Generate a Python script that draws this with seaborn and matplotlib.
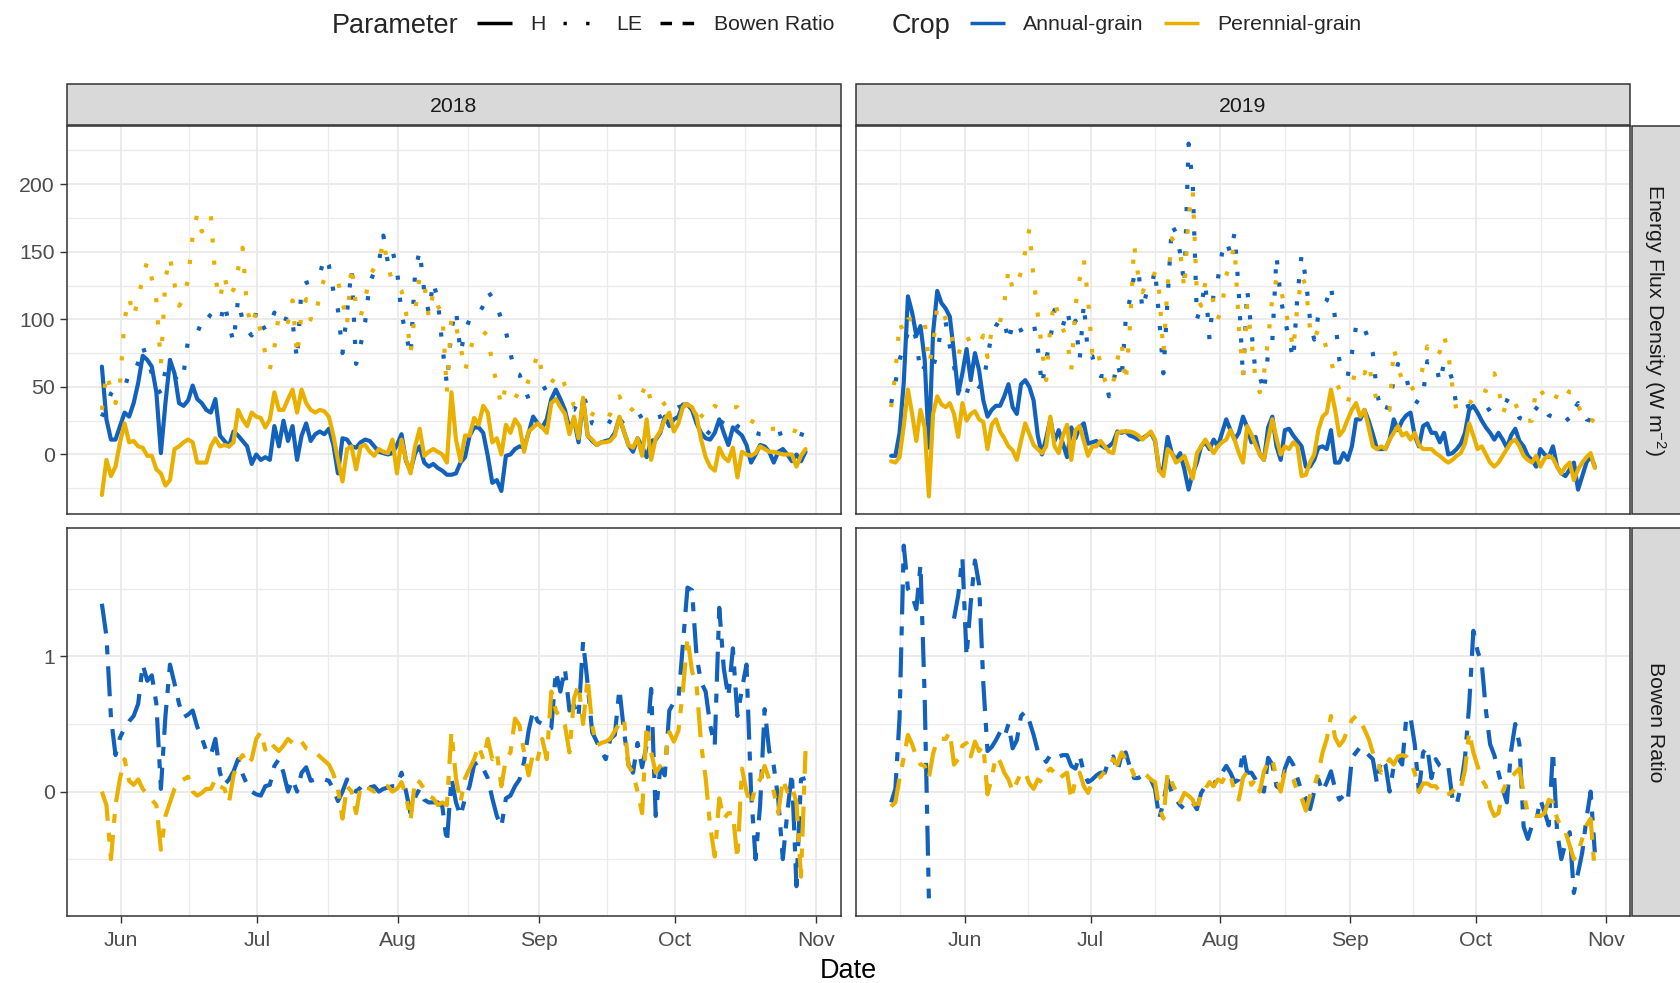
import numpy as np
import pandas as pd
import matplotlib
matplotlib.use("Agg")
import matplotlib.pyplot as plt
import matplotlib.dates as mdates
from matplotlib.lines import Line2D
from matplotlib.patches import Rectangle
import seaborn as sns

# ------------------------------------------------------------------
# Daily series (one value per day from the start date)
# ------------------------------------------------------------------
START_2018 = "2018-05-28"
START_2019 = "2019-05-15"

# Sensible heat flux H (W m-2), 2018
h_annual_2018 = [
    65, 26, 11, 11, 21, 31, 28, 38, 53, 73,
    70, 65, 46, 1, 38, 70, 60, 38, 36, 40,
    51, 41, 38, 33, 31, 41, 14, 10, 6, 17,
    14, 10, 6, -7, 0, -4, -2, -4, 21, 6,
    25, 10, 21, -4, 14, 23, 10, 15, 17, 15,
    19, 7, -14, 12, 11, 6, 5, 9, 11, 10,
    6, 2, 1, 0, 1, 7, 15, -5, -12, 1,
    6, -6, -9, -7, -10, -12, -15, -15, -14, -6,
    -2, 14, 20, 20, 16, -1, -21, -19, -27, -1,
    0, 4, 6, 5, 16, 28, 23, 20, 26, 41,
    48, 41, 33, 19, 26, 9, 41, 14, 10, 7,
    9, 10, 11, 16, 27, 17, 7, 2, 12, 6,
    -2, 10, 11, 16, 28, 21, 26, 28, 37, 37,
    33, 23, 16, 12, 11, 16, 26, 16, 7, 20,
    17, 14, 7, -6, 0, 7, 6, 2, -6, 2,
    4, 0, -5, 0, -5, 2,
]
h_perennial_2018 = [
    -30, -4, -16, -9, 9, 23, 9, 10, 6, 5,
    -1, -1, -11, -14, -23, -19, 4, 6, 9, 11,
    9, -6, -6, -6, 6, 12, 6, 7, 6, 9,
    33, 26, 21, 31, 28, 27, 20, 26, 46, 33,
    33, 41, 48, 31, 48, 38, 33, 31, 33, 32,
    28, 14, -4, -20, 4, 6, -11, 6, 7, 2,
    -1, 4, 2, 1, 11, -14, 11, -4, -14, 6,
    19, -1, 2, 4, 2, 0, -6, 46, 11, -5,
    14, 14, 27, 22, 36, 31, 9, 12, 0, 22,
    16, 26, 21, 2, 17, 20, 23, 20, 16, 38,
    41, 35, 30, 15, 28, 12, 42, 14, 11, 7,
    9, 9, 10, 14, 28, 17, 7, 5, 12, -1,
    26, -4, 12, 17, 26, 31, 17, 23, 35, 37,
    35, 28, 11, -2, -9, -12, 5, -2, -5, 5,
    -17, 2, 0, -1, 1, 6, 4, 2, 2, 1,
    0, 0, 0, -9, -1, 4,
]

# Latent heat flux LE (W m-2), 2018
le_annual_2018 = [
    28, 35, 45, 50, 52, 55, 54, 60, 68, 80,
    70, 60, 50, 45, 62, 65, 58, 53, 60, 85,
    88, 90, 98, 105, 102, 100, 97, 112, 96, 83,
    115, 99, 92, 88, 106, 98, 92, 95, 105, 100,
    96, 104, 98, 70, 125, 127, 128, 131, 133, 146,
    140, 121, 107, 75, 105, 137, 67, 81, 98, 127,
    135, 142, 162, 142, 151, 137, 104, 89, 73, 135,
    151, 121, 105, 128, 114, 80, 52, 93, 107, 75,
    91, 100, 104, 104, 110, 121, 116, 110, 100, 91,
    75, 60, 59, 50, 41, 44, 46, 48, 50, 51,
    46, 40, 38, 33, 33, 40, 44, 35, 23, 22,
    21, 20, 25, 31, 27, 22, 24, 26, 27, 29,
    31, 29, 27, 28, 30, 31, 33, 35, 36, 36,
    36, 28, 21, 18, 15, 14, 20, 26, 28, 25,
    21, 19, 18, 17, 16, 15, 15, 14, 14, 15,
    16, 17, 17, 16, 15, 14,
]
le_perennial_2018 = [
    33, 60, 48, 38, 53, 100, 116, 102, 115, 131,
    143, 130, 114, 67, 130, 146, 126, 110, 115, 130,
    162, 178, 165, 168, 177, 130, 115, 132, 117, 122,
    137, 153, 107, 95, 106, 90, 75, 63, 79, 104,
    100, 98, 114, 73, 105, 115, 100, 99, 120, 130,
    128, 128, 128, 114, 96, 140, 109, 102, 115, 132,
    138, 141, 158, 140, 127, 125, 121, 105, 75, 106,
    132, 127, 102, 120, 110, 104, 46, 102, 95, 80,
    62, 75, 88, 90, 91, 88, 67, 52, 36, 51,
    46, 44, 42, 45, 55, 63, 75, 60, 56, 53,
    58, 60, 51, 45, 36, 35, 33, 32, 30, 28,
    27, 25, 30, 40, 43, 36, 31, 34, 38, 45,
    53, 38, 36, 35, 38, 40, 39, 38, 37, 37,
    37, 33, 29, 26, 30, 36, 34, 33, 34, 35,
    35, 30, 27, 25, 23, 21, 20, 19, 19, 19,
    19, 19, 18, 17, 15, 14,
]

# Bowen ratio, 2018
bowen_annual_2018 = [
    1.39, 1.15, 0.55, 0.27, 0.40, 0.47, 0.52, 0.56, 0.65, 0.94,
    0.82, 0.86, 0.65, 0.02, 0.56, 0.94, 0.80, 0.65, 0.55, 0.57,
    0.60, 0.48, 0.40, 0.30, 0.27, 0.39, 0.14, 0.05, 0.09, 0.15,
    0.24, 0.13, 0.05, 0.00, -0.02, -0.03, 0.04, 0.05, 0.19, 0.24,
    0.14, 0.00, 0.09, 0.00, 0.14, 0.18, 0.08, 0.09, 0.08, 0.09,
    0.08, 0.02, -0.07, 0.00, 0.09, 0.02, 0.00, 0.03, 0.07, 0.03,
    0.04, 0.00, 0.02, 0.03, 0.04, 0.04, 0.14, 0.00, -0.16, -0.04,
    0.02, -0.06, -0.08, -0.08, -0.08, -0.11, -0.38, 0.10, -0.08, -0.18,
    -0.05, 0.04, 0.20, 0.22, 0.17, 0.10, -0.05, -0.18, -0.26, -0.05,
    -0.03, 0.04, 0.09, 0.22, 0.45, 0.60, 0.52, 0.50, 0.46, 0.47,
    0.89, 0.74, 0.91, 0.60, 0.64, 0.55, 1.11, 0.80, 0.44, 0.37,
    0.30, 0.24, 0.39, 0.42, 0.76, 0.45, 0.20, 0.14, 0.36, 0.18,
    0.34, 0.76, -0.18, 0.18, 0.12, 0.60, 0.66, 0.68, 1.09, 1.51,
    1.49, 1.00, 0.81, 0.74, 0.49, 0.34, 1.36, 0.91, 0.70, 1.06,
    0.56, 0.76, 0.94, 0.00, -0.50, -0.10, 0.61, 0.30, 0.19, -0.06,
    -0.50, -0.15, 0.14, -0.70, 0.09, 0.10,
]
bowen_perennial_2018 = [
    0.00, -0.10, -0.50, -0.10, 0.10, 0.24, 0.08, 0.05, 0.09, 0.02,
    -0.02, -0.06, -0.10, -0.43, -0.18, -0.08, 0.02, 0.07, 0.09, 0.11,
    0.00, -0.03, -0.01, 0.02, 0.02, 0.09, 0.04, 0.02, -0.08, 0.12,
    0.22, 0.27, 0.20, 0.24, 0.39, 0.44, 0.31, 0.37, 0.33, 0.30,
    0.34, 0.39, 0.36, 0.34, 0.37, 0.32, 0.31, 0.29, 0.26, 0.23,
    0.20, 0.13, 0.02, -0.20, 0.04, 0.00, -0.16, 0.04, 0.04, 0.02,
    0.00, 0.02, 0.03, 0.04, 0.00, 0.02, 0.07, -0.03, -0.21, 0.09,
    0.07, 0.02, -0.03, -0.05, -0.10, -0.08, -0.10, 0.44, 0.10, -0.08,
    0.10, 0.17, 0.24, 0.34, 0.24, 0.39, 0.24, 0.29, 0.04, 0.24,
    0.29, 0.54, 0.49, 0.29, 0.12, 0.29, 0.24, 0.39, 0.24, 0.74,
    0.60, 0.54, 0.49, 0.29, 0.69, 0.79, 0.50, 0.84, 0.49, 0.34,
    0.36, 0.37, 0.39, 0.45, 0.50, 0.54, 0.19, 0.14, 0.00, -0.16,
    0.49, 0.29, 0.14, 0.19, 0.22, 0.44, 0.37, 0.45, 0.75, 1.14,
    0.89, 0.79, 0.35, 0.10, -0.26, -0.48, -0.05, -0.20, -0.16, -0.16,
    -0.50, 0.17, 0.00, -0.10, 0.04, 0.09, 0.19, 0.09, 0.00, -0.16,
    0.09, 0.00, 0.04, -0.08, -0.63, 0.30,
]

# Sensible heat flux H (W m-2), 2019
h_annual_2019 = [
    -1, -1, 16, 53, 117, 105, 88, 95, 70, 5,
    90, 121, 112, 108, 102, 75, 45, 60, 78, 55,
    75, 62, 40, 28, 33, 36, 36, 43, 52, 35,
    30, 52, 55, 50, 40, 14, 0, 12, 26, 10,
    18, 8, -2, 20, 12, 20, 23, 8, 9, 10,
    7, 5, 6, 9, 17, 16, 17, 14, 13, 11,
    12, 14, 16, 10, -12, -10, 13, 1, -4, 1,
    -11, -26, -14, -6, 6, 9, 4, 11, 6, 16,
    26, 18, 11, 16, 28, 20, 9, 13, 0, -4,
    20, 28, 6, -4, 18, 19, 14, 10, 6, -9,
    -9, -4, 5, 6, 4, 18, -6, -6, 1, -4,
    6, 26, 26, 33, 25, 15, 4, 4, 4, 11,
    26, 18, 25, 29, 31, 14, 6, 21, 23, 16,
    16, 9, 16, 0, 1, 4, 8, 16, 33, 36,
    31, 25, 20, 16, 11, 16, 11, 5, 14, 19,
    10, 6, -1, -4, -9, 4, 0, -2, 6, -9,
    -14, -16, -11, -6, -26, -16, -6, -1, -9,
]
h_perennial_2019 = [
    -5, -6, -2, 21, 48, 30, 10, 33, 20, -31,
    30, 43, 37, 35, 38, 30, 13, 38, 25, 30,
    32, 26, 24, 4, 22, 26, 17, 12, 6, 3,
    -4, 10, 23, 15, 7, 4, 1, 6, 28, 6,
    1, 14, 22, -4, 18, 21, 10, -1, 6, 6,
    10, 6, 2, 1, 16, 17, 17, 17, 16, 14,
    11, 14, 17, 11, -12, -16, 4, 1, -6, -4,
    -1, -10, -18, 1, 6, 11, 6, 1, 6, 9,
    11, 18, 11, 1, -6, 21, 15, 7, 0, -4,
    11, 26, 12, 0, 6, 4, 9, 6, -16, -15,
    -6, 0, 18, 28, 31, 48, 33, 14, 18, 26,
    33, 38, 28, 33, 20, 6, 4, 6, 4, 11,
    16, 21, 14, 16, 11, 16, 7, 4, 4, 4,
    1, -1, -4, -6, -4, -1, 1, 8, 23, 14,
    4, 6, 0, -6, -9, -6, -1, 4, 9, 11,
    6, -1, -4, -6, -1, -9, -3, -1, -3, -9,
    -14, -9, -6, -19, -11, -6, -2, 1, -10,
]

# Latent heat flux LE (W m-2), 2019
le_annual_2019 = [
    38, 53, 70, 80, 90, 95, 85, 60, 65, 70,
    65, 75, 95, 98, 80, 65, 50, 40, 45, 55,
    52, 50, 51, 73, 88, 95, 100, 100, 83, 97,
    91, 92, 94, 95, 98, 79, 51, 70, 85, 107,
    98, 95, 107, 92, 99, 70, 112, 73, 73, 60,
    58, 58, 43, 53, 68, 55, 100, 115, 132, 137,
    107, 120, 122, 137, 100, 60, 115, 170, 164, 149,
    125, 230, 200, 100, 110, 127, 85, 120, 130, 149,
    158, 149, 164, 120, 56, 122, 92, 60, 58, 46,
    75, 84, 147, 115, 100, 85, 70, 118, 148, 130,
    100, 85, 103, 110, 114, 125, 100, 70, 60, 58,
    75, 95, 90, 93, 85, 75, 45, 33, 31, 40,
    55, 67, 62, 57, 43, 40, 38, 45, 69, 68,
    68, 53, 68, 64, 55, 35, 33, 35, 36, 35,
    34, 33, 32, 34, 37, 40, 41, 40, 38, 33,
    27, 26, 26, 30, 34, 38, 34, 29, 28, 30,
    31, 28, 24, 33, 38, 32, 26, 25, 25,
]
le_perennial_2019 = [
    35, 60, 98, 90, 100, 100, 98, 98, 99, 67,
    80, 110, 108, 100, 92, 80, 73, 85, 88, 82,
    82, 81, 88, 72, 92, 92, 98, 112, 137, 122,
    125, 135, 150, 167, 130, 104, 78, 55, 95, 114,
    102, 93, 85, 62, 110, 130, 144, 115, 75, 80,
    67, 55, 48, 53, 70, 83, 53, 95, 155, 132,
    120, 127, 127, 135, 120, 75, 125, 160, 155, 150,
    122, 177, 195, 117, 110, 127, 125, 112, 100, 110,
    132, 144, 154, 95, 60, 110, 85, 55, 46, 60,
    85, 116, 130, 123, 108, 95, 78, 110, 132, 125,
    93, 85, 93, 88, 78, 70, 56, 48, 42, 38,
    51, 64, 64, 60, 68, 50, 40, 37, 35, 33,
    79, 65, 55, 48, 48, 50, 52, 65, 80, 75,
    72, 76, 88, 75, 50, 32, 33, 35, 37, 42,
    48, 48, 47, 58, 60, 50, 30, 38, 41, 38,
    30, 26, 25, 25, 50, 48, 43, 40, 38, 44,
    51, 48, 46, 46, 36, 30, 26, 23, 28,
]

# Bowen ratio, 2019 (NaN = no valid ratio that day)
nan = np.nan
bowen_annual_2019 = [
    -0.08, 0.02, 0.55, 1.82, 1.50, 1.45, 1.35, 1.68, 0.70, -0.79,
    nan, nan, nan, nan, nan, 1.28, 1.45, 1.73, 1.00, 1.40,
    1.71, 1.53, 0.80, 0.30, 0.33, 0.38, 0.44, 0.40, 0.50, 0.32,
    0.38, 0.56, 0.59, 0.52, 0.42, 0.30, 0.27, 0.22, 0.27, 0.25,
    0.26, 0.27, 0.27, 0.19, 0.17, 0.27, 0.14, 0.07, 0.09, 0.12,
    0.14, 0.14, 0.24, 0.26, 0.15, 0.27, 0.29, 0.18, 0.10, 0.10,
    0.12, 0.11, 0.09, 0.02, -0.20, -0.08, 0.09, -0.01, -0.06, -0.10,
    -0.13, -0.09, -0.08, -0.13, -0.01, 0.04, 0.07, 0.04, 0.12, 0.14,
    0.19, 0.14, 0.07, 0.09, 0.30, 0.14, 0.14, 0.09, 0.02, 0.00,
    0.25, 0.20, 0.04, 0.02, 0.17, 0.25, 0.20, 0.10, 0.00, -0.05,
    -0.13, 0.00, 0.09, 0.00, 0.07, 0.15, 0.02, -0.06, -0.03, -0.07,
    0.25, 0.29, 0.33, 0.30, 0.27, 0.24, 0.06, 0.24, 0.20, 0.00,
    0.19, 0.25, 0.20, 0.55, 0.55, 0.35, 0.00, 0.29, 0.33, 0.10,
    0.24, 0.19, 0.17, 0.19, -0.05, -0.10, 0.04, 0.25, 0.64, 1.19,
    1.04, 0.95, 0.60, 0.35, 0.27, 0.14, 0.02, -0.08, 0.30, 0.50,
    0.35, -0.26, -0.35, -0.25, -0.22, -0.06, -0.15, -0.25, 0.30, -0.30,
    -0.50, -0.38, -0.30, -0.75, -0.60, -0.45, -0.20, 0.00, -0.45,
]
bowen_perennial_2019 = [
    -0.11, -0.08, 0.10, 0.25, 0.42, 0.35, 0.26, 0.20, 0.19, 0.10,
    0.28, 0.38, 0.39, 0.39, 0.44, 0.20, 0.24, 0.34, 0.36, 0.26,
    0.37, 0.30, 0.34, -0.02, 0.10, 0.26, 0.22, 0.14, 0.09, 0.00,
    0.07, 0.14, 0.14, 0.06, 0.02, 0.09, 0.07, 0.14, 0.17, 0.14,
    0.09, 0.12, 0.14, -0.06, 0.09, 0.14, 0.04, -0.01, 0.07, 0.09,
    0.11, 0.15, 0.19, 0.24, 0.20, 0.29, 0.24, 0.20, 0.12, 0.12,
    0.14, 0.12, 0.09, 0.07, -0.12, -0.20, 0.14, 0.07, 0.00, -0.08,
    -0.01, -0.03, -0.06, -0.15, 0.00, 0.02, 0.07, 0.04, 0.09, 0.07,
    0.13, 0.12, 0.00, -0.06, 0.10, 0.15, 0.05, 0.09, 0.00, 0.15,
    0.22, 0.24, 0.10, 0.00, 0.15, 0.14, 0.09, 0.00, -0.05, -0.14,
    -0.03, 0.04, 0.14, 0.29, 0.39, 0.56, 0.40, 0.34, 0.38, 0.46,
    0.53, 0.56, 0.52, 0.46, 0.39, 0.29, 0.24, 0.14, 0.19, 0.24,
    0.20, 0.26, 0.27, 0.26, 0.22, 0.14, 0.00, 0.06, 0.06, 0.04,
    0.04, 0.00, -0.03, -0.02, 0.00, 0.04, 0.02, 0.16, 0.44, 0.29,
    0.19, 0.09, 0.04, -0.11, -0.18, -0.16, 0.00, 0.07, 0.10, 0.14,
    0.17, -0.01, -0.16, -0.16, -0.18, -0.18, -0.16, -0.06, -0.08, -0.20,
    -0.26, -0.30, -0.40, -0.50, -0.45, -0.35, -0.25, -0.20, -0.60,
]

years = ["2018", "2019"]
crops = ["Annual-grain", "Perennial-grain"]
parameters = ["H", "LE", "Bowen Ratio"]
row_titles = [r"Energy Flux Density (W m$^{-2}$)", "Bowen Ratio"]
energy_breaks = [0, 50, 100, 150, 200]
bowen_breaks = [0, 1]

# ------------------------------------------------------------------
# Long table
# ------------------------------------------------------------------
def series_frame(values, start, crop, param, year):
    v = pd.Series(values, dtype=float)
    d = pd.date_range(start, periods=len(v), freq="D")
    seg = v.isna().cumsum()
    df = pd.DataFrame({"Date": d, "Value": v.values, "Crop": crop,
                       "Parameter": param, "Year": year, "seg": seg.values})
    return df.dropna(subset=["Value"])

pieces = [
    (h_annual_2018, START_2018, crops[0], "H", "2018"),
    (h_perennial_2018, START_2018, crops[1], "H", "2018"),
    (le_annual_2018, START_2018, crops[0], "LE", "2018"),
    (le_perennial_2018, START_2018, crops[1], "LE", "2018"),
    (bowen_annual_2018, START_2018, crops[0], "Bowen Ratio", "2018"),
    (bowen_perennial_2018, START_2018, crops[1], "Bowen Ratio", "2018"),
    (h_annual_2019, START_2019, crops[0], "H", "2019"),
    (h_perennial_2019, START_2019, crops[1], "H", "2019"),
    (le_annual_2019, START_2019, crops[0], "LE", "2019"),
    (le_perennial_2019, START_2019, crops[1], "LE", "2019"),
    (bowen_annual_2019, START_2019, crops[0], "Bowen Ratio", "2019"),
    (bowen_perennial_2019, START_2019, crops[1], "Bowen Ratio", "2019"),
]
data = pd.concat([series_frame(*p) for p in pieces], ignore_index=True)
data["Row"] = np.where(data["Parameter"] == "Bowen Ratio", 1, 0)

# ------------------------------------------------------------------
# Style
# ------------------------------------------------------------------
sns.set_theme(style="white")
plt.rcParams["font.family"] = ["Liberation Sans", "DejaVu Sans"]
plt.rcParams["mathtext.fontset"] = "custom"
plt.rcParams["mathtext.rm"] = "Liberation Sans"
plt.rcParams["mathtext.it"] = "Liberation Sans:italic"
plt.rcParams["lines.scale_dashes"] = False

palette = {"Annual-grain": "#1262BD", "Perennial-grain": "#E9B000"}
dash_map = {"H": "", "LE": (3.0, 13.0), "Bowen Ratio": (21.6, 8.6, 6.5, 8.6)}
LINE_W = 3.0
KEY_W = 2.5
GRID = "#EBEBEB"
DARK = "#333333"
TICK_TXT = "#4D4D4D"
STRIP_FILL = "#D9D9D9"
TICK_FS = 15.3
TITLE_FS = 19.5

W, H = 1680, 983
fig = plt.figure(figsize=(W / 100, H / 100), dpi=100)
fig.patch.set_facecolor("white")


def rect(x0, y0, x1, y1):
    return [x0 / W, 1 - y1 / H, (x1 - x0) / W, (y1 - y0) / H]


col_x = [(66.7, 840.7), (856.0, 1630.0)]
row_y = [(126.0, 514.0), (528.0, 916.0)]
strip_top = (83.6, 125.4)
strip_right = (1632.0, 1680.0)

# expanded limits, 5% on each side of the data range
def expand(lo, hi, mult=0.05):
    span = hi - lo
    return lo - mult * span, hi + mult * span

xlims = {}
for yr in years:
    d = data.loc[data["Year"] == yr, "Date"]
    lo, hi = mdates.date2num(d.min()), mdates.date2num(d.max())
    xlims[yr] = expand(lo, hi)
ylims = {}
for r in (0, 1):
    v = data.loc[data["Row"] == r, "Value"]
    ylims[r] = expand(v.min(), v.max())


def mid_breaks(breaks, lo, hi):
    b = list(breaks)
    step0 = b[1] - b[0]
    step1 = b[-1] - b[-2]
    ext = [b[0] - step0] + b + [b[-1] + step1]
    mids = [(a + c) / 2 for a, c in zip(ext[:-1], ext[1:])]
    return [m for m in mids if lo <= m <= hi]


for r in (0, 1):
    for c, yr in enumerate(years):
        x0, x1 = col_x[c]
        y0, y1 = row_y[r]
        ax = fig.add_axes(rect(x0, y0, x1, y1))
        ax.set_facecolor("white")
        ax.set_axisbelow(True)
        sub = data[(data["Year"] == yr) & (data["Row"] == r)]
        styles = ["H", "LE"] if r == 0 else ["Bowen Ratio"]
        sns.lineplot(data=sub, x="Date", y="Value", hue="Crop", style="Parameter",
                     units="seg", estimator=None, hue_order=crops,
                     style_order=styles, palette=palette,
                     dashes={k: dash_map[k] for k in styles},
                     linewidth=LINE_W, legend=False, sort=True, ax=ax)
        for ln in ax.get_lines():
            ln.set_dash_capstyle("butt")
            ln.set_solid_joinstyle("round")

        xl = xlims[yr]
        ax.set_xlim(*xl)
        ax.set_ylim(*ylims[r])

        # x breaks: first of each month, minor halfway in between
        lo_d = mdates.num2date(xl[0]).replace(tzinfo=None)
        hi_d = mdates.num2date(xl[1]).replace(tzinfo=None)
        months = pd.date_range(lo_d - pd.DateOffset(months=1),
                               hi_d + pd.DateOffset(months=1), freq="MS")
        mnum = mdates.date2num(months.to_pydatetime())
        major_x = [m for m in mnum if xl[0] <= m <= xl[1]]
        minor_x = [(a + b) / 2 for a, b in zip(mnum[:-1], mnum[1:])]
        minor_x = [m for m in minor_x if xl[0] <= m <= xl[1]]
        ax.set_xticks(major_x)
        ax.set_xticks(minor_x, minor=True)
        ax.xaxis.set_major_formatter(mdates.DateFormatter("%b"))

        yb = energy_breaks if r == 0 else bowen_breaks
        ax.set_yticks(yb)
        ax.set_yticks(mid_breaks(yb, *ylims[r]), minor=True)

        ax.grid(which="major", color=GRID, linewidth=1.4)
        ax.grid(which="minor", color=GRID, linewidth=0.9)

        ax.set_xlabel("")
        ax.set_ylabel("")
        ax.tick_params(which="minor", length=0)
        ax.tick_params(which="major", length=4.9, width=1.0, color=DARK,
                       labelsize=TICK_FS, labelcolor=TICK_TXT, pad=3.6)
        ax.tick_params(axis="x", pad=5.6)
        ax.tick_params(axis="x", bottom=(r == 1), labelbottom=(r == 1))
        ax.tick_params(axis="y", left=(c == 0), labelleft=(c == 0))
        for sp in ax.spines.values():
            sp.set_visible(True)
            sp.set_color(DARK)
            sp.set_linewidth(1.1)

# facet strips
for c, yr in enumerate(years):
    x0, x1 = col_x[c]
    fig.add_artist(Rectangle((x0 / W, 1 - strip_top[1] / H), (x1 - x0) / W,
                             (strip_top[1] - strip_top[0]) / H,
                             transform=fig.transFigure, facecolor=STRIP_FILL,
                             edgecolor=DARK, linewidth=1.1))
    fig.text((x0 + x1) / 2 / W, 1 - (strip_top[0] + strip_top[1]) / 2 / H, yr,
             ha="center", va="center_baseline", fontsize=TICK_FS, color="#1A1A1A")
for r in (0, 1):
    y0, y1 = row_y[r]
    sx0, sx1 = strip_right
    fig.add_artist(Rectangle((sx0 / W, 1 - y1 / H), (sx1 - sx0 + 10) / W,
                             (y1 - y0) / H, transform=fig.transFigure,
                             facecolor=STRIP_FILL, edgecolor=DARK, linewidth=1.1))
    fig.text(1655 / W, 1 - (y0 + y1) / 2 / H, row_titles[r], rotation=-90,
             ha="center", va="center", fontsize=TICK_FS, color="#1A1A1A")

# axis title
fig.text(848.4 / W, 1 - 971.0 / H, "Date", ha="center", va="center",
         fontsize=TITLE_FS, color="black")

# legend along the top
ly = 1 - 23.0 / H


def key_line(x0, x1, color, dashes):
    ln = Line2D([x0 / W, x1 / W], [ly, ly], transform=fig.transFigure,
                color=color, linewidth=KEY_W, solid_capstyle="butt",
                dash_capstyle="butt")
    if dashes:
        ln.set_dashes(dashes)
    fig.add_artist(ln)


fig.text(332 / W, ly, "Parameter", ha="left", va="center_baseline", fontsize=TITLE_FS)
key_line(477, 512, "black", None)
fig.text(530 / W, ly, "H", ha="left", va="center_baseline", fontsize=TICK_FS)
key_line(563.3, 598, "black", (2.4, 13.9))
fig.text(616 / W, ly, "LE", ha="left", va="center_baseline", fontsize=TICK_FS)
key_line(660, 695, "black", (8.3, 7.6))
fig.text(714 / W, ly, "Bowen Ratio", ha="left", va="center_baseline", fontsize=TICK_FS)

fig.text(892 / W, ly, "Crop", ha="left", va="center_baseline", fontsize=TITLE_FS)
key_line(970, 1005, palette["Annual-grain"], None)
fig.text(1023 / W, ly, "Annual-grain", ha="left", va="center_baseline", fontsize=TICK_FS)
key_line(1164, 1199, palette["Perennial-grain"], None)
fig.text(1217 / W, ly, "Perennial-grain", ha="left", va="center_baseline", fontsize=TICK_FS)

fig.savefig("out.png", dpi=100, facecolor="white")
